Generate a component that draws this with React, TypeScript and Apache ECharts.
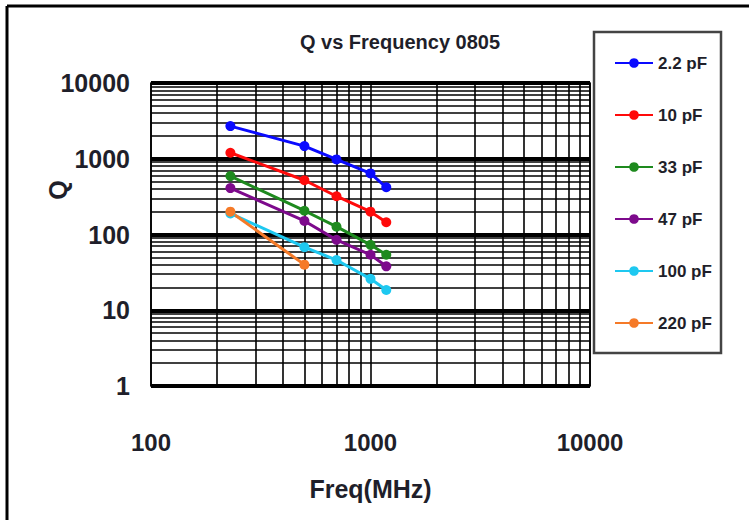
import React, { useEffect, useRef } from "react";
import * as echarts from "echarts";

const FREQ = [230, 500, 700, 1000, 1180];
const FREQ_220 = [230, 500];
const Q_2P2 = [2700, 1470, 980, 640, 420];
const Q_10 = [1200, 520, 320, 200, 145];
const Q_33 = [590, 206, 127, 73, 54];
const Q_47 = [410, 151, 85, 54, 38];
const Q_100 = [190, 68, 46, 26, 18.5];
const Q_220 = [200, 40];
const NAMES = ["2.2 pF", "10 pF", "33 pF", "47 pF", "100 pF", "220 pF"];
const COLORS = ["#0a0aff", "#ff0a0a", "#1e8a1e", "#7d0a8c", "#1ec8f0", "#f57a28"];
const Y_MINOR = [2, 3, 4, 5, 6, 7, 8, 9, 20, 30, 40, 50, 60, 70, 80, 90, 200, 300, 400, 500, 600, 700, 800, 900, 2000, 3000, 4000, 5000, 6000, 7000, 8000, 9000];
const X_MINOR = [200, 300, 400, 500, 600, 700, 800, 900, 2000, 3000, 4000, 5000, 6000, 7000, 8000, 9000];
const TITLE = "Q vs Frequency 0805";
const X_NAME = "Freq(MHz)";
const Y_NAME = "Q";

const FONT = "'Liberation Sans', Arial, sans-serif";
const TXT = "#1f1f2a";

function pairs(xs: number[], ys: number[]) {
  return ys.map((y, i) => [xs[i], y]);
}

export default function App() {
  const ref = useRef<HTMLDivElement>(null);
  useEffect(() => {
    if (!ref.current) return;
    const chart = echarts.init(ref.current, undefined, { renderer: "svg" });
    const values = [Q_2P2, Q_10, Q_33, Q_47, Q_100, Q_220];
    const series: any[] = values.map((vals, i) => ({
      name: NAMES[i],
      type: "line",
      data: pairs(i === 5 ? FREQ_220 : FREQ, vals),
      symbol: "circle",
      symbolSize: 10,
      color: COLORS[i],
      lineStyle: { width: 3, color: COLORS[i] },
      itemStyle: { color: COLORS[i] },
      z: 3,
    }));
    series.push({
      name: "grid",
      type: "line",
      data: [],
      silent: true,
      z: 1,
      markLine: {
        z: 1,
        silent: true,
        symbol: ["none", "none"],
        label: { show: false },
        emphasis: { disabled: true },
        lineStyle: { color: "#000", width: 1.6, type: "solid" },
        data: [
          ...Y_MINOR.map((v) => ({ yAxis: v })),
          ...X_MINOR.map((v) => ({ xAxis: v })),
        ],
      },
    });
    chart.setOption({
      animation: false,
      backgroundColor: "#fff",
      grid: {
        left: 151,
        right: 159,
        top: 83,
        bottom: 134,
        show: true,
        borderColor: "#000",
        borderWidth: 1.6,
      },
      legend: {
        orient: "vertical",
        left: 609,
        top: 48,
        itemWidth: 38,
        itemHeight: 12,
        itemGap: 32,
        data: NAMES,
        textStyle: { fontFamily: FONT, fontWeight: "bold", fontSize: 17, lineHeight: 20, color: TXT },
      },
      xAxis: {
        type: "log",
        logBase: 10,
        min: 100,
        max: 10000,
        name: X_NAME,
        nameLocation: "middle",
        nameGap: 90,
        nameTextStyle: { fontFamily: FONT, fontWeight: "bold", fontSize: 25, color: TXT },
        axisLine: { show: false },
        axisTick: { show: false },
        axisLabel: { fontFamily: FONT, fontWeight: "bold", fontSize: 24, color: TXT, margin: 44, formatter: (v: number) => String(v) },
        splitLine: { show: true, lineStyle: { color: "#000", width: 1.6 } },
      },
      yAxis: {
        type: "log",
        logBase: 10,
        min: 1,
        max: 10000,
        axisLine: { show: false },
        axisTick: { show: false },
        axisLabel: { fontFamily: FONT, fontWeight: "bold", fontSize: 25, color: TXT, margin: 21, formatter: (v: number) => String(v) },
        splitLine: { show: true, lineStyle: { color: "#000", width: 4 } },
      },
      graphic: [
        { type: "line", shape: { x1: 7, y1: 6, x2: 749, y2: 6 }, style: { stroke: "#000", lineWidth: 3 }, silent: true },
        { type: "line", shape: { x1: 7, y1: 6, x2: 7, y2: 520 }, style: { stroke: "#000", lineWidth: 3 }, silent: true },
        { type: "rect", shape: { x: 594, y: 32, width: 127, height: 321 }, style: { fill: "none", stroke: "#444", lineWidth: 2.5 }, silent: true, z: 0 },
        {
          type: "text",
          x: 400,
          y: 42,
          style: { text: TITLE, fontFamily: FONT, fontWeight: "bold", fontSize: 20, fill: TXT, textAlign: "center", textVerticalAlign: "middle" },
        },
        {
          type: "text",
          x: 58,
          y: 190,
          rotation: Math.PI / 2,
          style: { text: Y_NAME, fontFamily: FONT, fontWeight: "bold", fontSize: 25, fill: TXT, textAlign: "center", textVerticalAlign: "middle" },
        },
      ],
      series,
    });
    return () => chart.dispose();
  }, []);
  return <div ref={ref} style={{ width: 749, height: 520, position: "absolute", left: 0, top: 0 }} />;
}
